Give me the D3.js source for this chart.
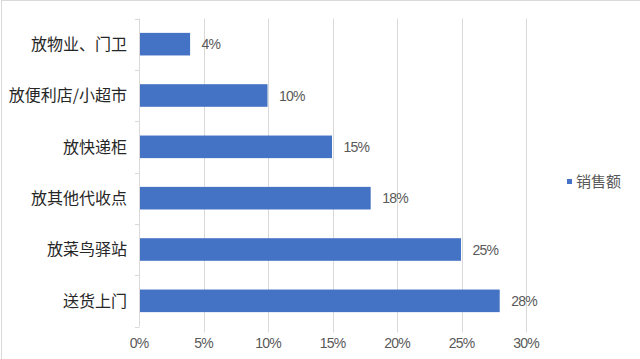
<!DOCTYPE html>
<html>
<head>
<meta charset="utf-8">
<script src="https://cdn.jsdelivr.net/npm/d3@7/dist/d3.min.js"></script>
<style>
  html, body { margin: 0; padding: 0; background: #fff; }
  svg { display: block; }
</style>
</head>
<body>
<svg id="chart" width="640" height="359"></svg>
<script>
const categories = ["放物业、门卫", "放便利店/小超市", "放快递柜", "放其他代收点", "放菜鸟驿站", "送货上门"];
const values = [4, 10, 15, 18, 25, 28];
const valueLabels = ["4%", "10%", "15%", "18%", "25%", "28%"];
const ticks = [0, 5, 10, 15, 20, 25, 30];
const tickLabels = ["0%", "5%", "10%", "15%", "20%", "25%", "30%"];
const seriesName = "销售额";

(function () {
const svg = d3.select("#chart");
const W = 640, H = 359;
const pLeft = 139, pRight = 526, pTop = 18.5, pBottom = 326.5;
const cjk = "'Noto Sans CJK SC', 'Noto Sans', sans-serif";
const num = "'Liberation Sans', Arial, sans-serif";

// outer chart border
svg.append("rect").attr("x", 1.5).attr("y", 0.5).attr("width", W + 10).attr("height", H + 10)
  .attr("fill", "#fff").attr("stroke", "#d9d9d9").attr("stroke-width", 1);

const x = d3.scaleLinear().domain([0, 30]).range([pLeft, pRight]);
const y = d3.scaleBand().domain(categories).range([pTop, pBottom]).paddingInner(0.56).paddingOuter(0.28);

// gridlines
svg.append("g").selectAll("line").data(ticks.slice(1)).join("line")
  .attr("x1", d => Math.round(x(d)) + 0.5).attr("x2", d => Math.round(x(d)) + 0.5)
  .attr("y1", pTop).attr("y2", pBottom + 6)
  .attr("stroke", "#d9d9d9").attr("stroke-width", 1);

// left axis line + minor ticks at band boundaries
svg.append("line").attr("x1", pLeft + 0.5).attr("x2", pLeft + 0.5).attr("y1", pTop).attr("y2", pBottom)
  .attr("stroke", "#d9d9d9");
svg.append("g").selectAll("line").data(d3.range(categories.length + 1)).join("line")
  .attr("x1", pLeft - 4).attr("x2", pLeft + 0.5)
  .attr("y1", i => Math.round(pTop + (pBottom - pTop) * i / categories.length) + 0.5)
  .attr("y2", i => Math.round(pTop + (pBottom - pTop) * i / categories.length) + 0.5)
  .attr("stroke", "#d9d9d9");

// bars
svg.append("g").selectAll("rect").data(values).join("rect")
  .attr("x", x(0) + 1)
  .attr("y", (d, i) => y(categories[i]))
  .attr("width", d => x(d) - x(0) - 1.5)
  .attr("height", y.bandwidth())
  .attr("fill", "#4472c4");

// value labels
svg.append("g").selectAll("text").data(values).join("text")
  .attr("x", d => x(d) + 11)
  .attr("y", (d, i) => y(categories[i]) + y.bandwidth() / 2)
  .attr("dy", "0.36em")
  .attr("font-family", num).attr("font-size", 14).attr("letter-spacing", "-0.8px").attr("fill", "#595959")
  .text((d, i) => valueLabels[i]);

// category labels
svg.append("g").selectAll("text").data(categories).join("text")
  .attr("x", 127)
  .attr("y", d => y(d) + y.bandwidth() / 2)
  .attr("dy", "0.36em")
  .attr("text-anchor", "end")
  .attr("font-family", cjk).attr("font-size", 16).attr("fill", "#262626")
  .text(d => d);

// x tick labels
svg.append("g").selectAll("text").data(ticks).join("text")
  .attr("x", d => x(d))
  .attr("y", 343)
  .attr("dy", "0.36em")
  .attr("text-anchor", "middle")
  .attr("font-family", num).attr("font-size", 14).attr("letter-spacing", "-0.8px").attr("fill", "#595959")
  .text((d, i) => tickLabels[i]);

// legend
svg.append("rect").attr("x", 567).attr("y", 179).attr("width", 5).attr("height", 5).attr("fill", "#4472c4");
svg.append("text").attr("x", 576).attr("y", 182).attr("dy", "0.36em")
  .attr("font-family", cjk).attr("font-size", 15).attr("fill", "#595959")
  .text(seriesName);
})();
</script>
</body>
</html>
